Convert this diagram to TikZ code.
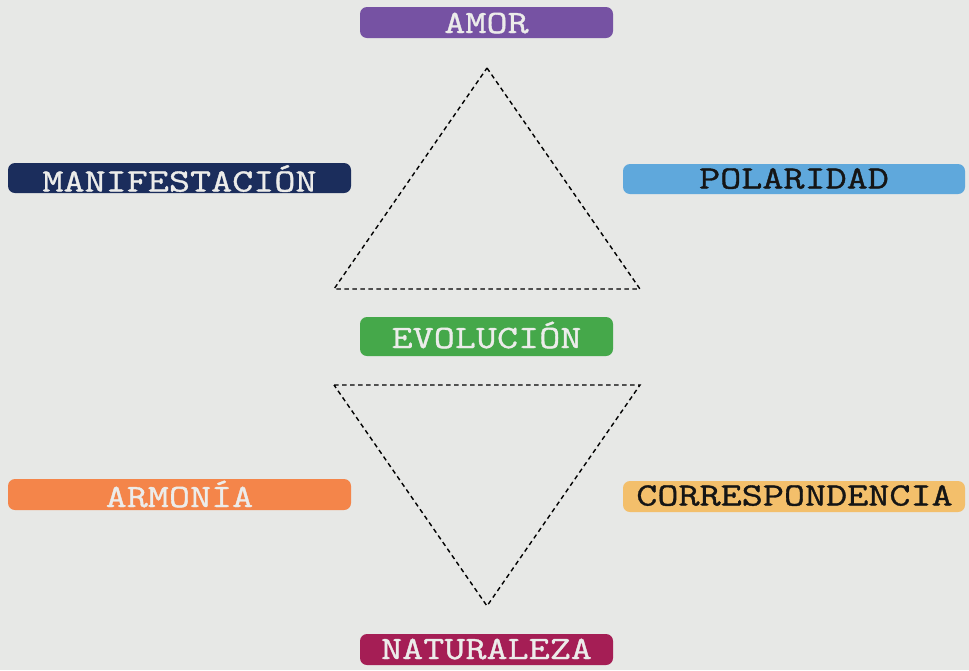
\documentclass[tikz,border=0pt]{standalone}
\usepackage{fontspec}
\newfontfamily\boxfont[FakeStretch=1.26,FakeBold=1.1]{Latin Modern Mono}
\definecolor{bg}{HTML}{E7E8E6}
\definecolor{cAmor}{HTML}{7652A3}
\definecolor{cMani}{HTML}{1B2D5C}
\definecolor{cPola}{HTML}{5FA8DC}
\definecolor{cEvol}{HTML}{45A84A}
\definecolor{cArmo}{HTML}{F4854A}
\definecolor{cCorr}{HTML}{F3BF6B}
\definecolor{cNatu}{HTML}{A51E55}
\definecolor{lighttxt}{HTML}{ECECEA}
\definecolor{darktxt}{HTML}{151515}
\begin{document}
\begin{tikzpicture}[x=1pt,y=-1pt,
  label box/.style={inner sep=0pt, anchor=base, font=\boxfont\fontsize{32.5}{32.5}\selectfont},
  box fill/.style={rounded corners=7pt},
  tri/.style={draw=black, line width=1.4pt, dash pattern=on 4.5pt off 3.5pt}]
\fill[bg] (0,0) rectangle (969,670);
\useasboundingbox (0,0) rectangle (969,670);
% boxes
\fill[cAmor, box fill] (360,7) rectangle (613,38);
\node[label box, text=lighttxt] (amor) at (486.5,33) {AMOR};
\fill[cMani, box fill] (8,163) rectangle (351,193);
\node[label box, text=lighttxt] (mani) at (179.5,191.5) {MANIFESTACIÓN};
\fill[cPola, box fill] (623,164) rectangle (965,194);
\node[label box, text=darktxt] (pola) at (794,188.5) {POLARIDAD};
\fill[cEvol, box fill] (360,317) rectangle (613,356);
\node[label box, text=lighttxt] (evol) at (486.5,348) {EVOLUCIÓN};
\fill[cArmo, box fill] (8,479) rectangle (351,510);
\node[label box, text=lighttxt] (armo) at (179.5,507) {ARMONÍA};
\fill[cCorr, box fill] (623,481) rectangle (965,512);
\node[label box, text=darktxt] (corr) at (794.5,505.5) {CORRESPONDENCIA};
\fill[cNatu, box fill] (360,634) rectangle (613,665);
\node[label box, text=lighttxt] (natu) at (486.5,659) {NATURALEZA};
% triangles
\coordinate (ua) at (487,68);
\coordinate (ul) at (334,289);
\coordinate (ur) at (640,289);
\draw[tri] (ua) -- (ur) -- (ul) -- cycle;
\coordinate (la) at (487,606);
\coordinate (ll) at (334,385);
\coordinate (lr) at (640,385);
\draw[tri] (ll) -- (lr) -- (la) -- cycle;
\end{tikzpicture}
\end{document}
